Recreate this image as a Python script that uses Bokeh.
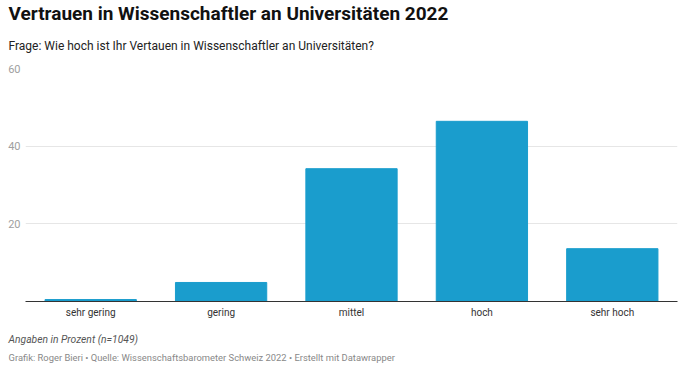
from bokeh.plotting import figure
from bokeh.models import Title, FixedTicker, Range1d
from bokeh.embed import file_html
from bokeh.resources import INLINE

categories = ["sehr gering", "gering", "mittel", "hoch", "sehr hoch"]
values = [0.5, 4.9, 34.2, 46.4, 13.6]
y_ticks = [20, 40, 60]

title_text = "Vertrauen in Wissenschaftler an Universitäten 2022"
subtitle_text = "Frage: Wie hoch ist Ihr Vertauen in Wissenschaftler an Universitäten?"
note_text = "Angaben in Prozent (n=1049)"
credit_text = "Grafik: Roger Bieri • Quelle: Wissenschaftsbarometer Schweiz 2022 • Erstellt mit Datawrapper"

FONT = "Roboto"

p = figure(x_range=categories, y_range=Range1d(0, 60), width=686, height=371,
           output_backend="svg", toolbar_location=None,
           min_border_left=25, min_border_right=9, min_border_top=68, min_border_bottom=70)

p.vbar(x=categories, top=values, width=0.7, color="#1a9dcd")

p.outline_line_color = None
p.background_fill_color = "white"
p.border_fill_color = "white"

# y axis
p.yaxis.ticker = FixedTicker(ticks=y_ticks)
p.yaxis.axis_line_color = None
p.yaxis.major_tick_line_color = None
p.yaxis.minor_tick_line_color = None
p.yaxis.major_tick_out = 0
p.yaxis.major_label_standoff = 5
p.yaxis.major_label_text_color = "#a0a0a0"
p.yaxis.major_label_text_font = FONT
p.yaxis.major_label_text_font_size = "11px"
p.ygrid.ticker = FixedTicker(ticks=y_ticks)
p.ygrid.grid_line_color = "#e6e6e6"
p.xgrid.grid_line_color = None

# x axis
p.xaxis.axis_line_color = "#333333"
p.xaxis.axis_line_width = 1
p.xaxis.major_tick_line_color = None
p.xaxis.minor_tick_line_color = None
p.xaxis.major_tick_out = 0
p.xaxis.major_label_standoff = 5
p.xaxis.major_label_text_color = "#333333"
p.xaxis.major_label_text_font = FONT
p.xaxis.major_label_text_font_size = "10px"

# titles above (first added is closest to plot)
p.add_layout(Title(text=subtitle_text, text_font=FONT, text_font_size="12px",
                   text_font_style="normal", text_color="#222222", align="left",
                   offset=-17, standoff=31), "above")
p.add_layout(Title(text=title_text, text_font=FONT, text_font_size="19px",
                   text_font_style="bold", text_color="#111111", align="left",
                   offset=-17, standoff=-6), "above")

# notes below (first added is closest to plot)
p.add_layout(Title(text=note_text, text_font=FONT, text_font_size="10.3px",
                   text_font_style="italic", text_color="#555555", align="left",
                   offset=-17, standoff=20), "below")
p.add_layout(Title(text=credit_text, text_font=FONT, text_font_size="9.4px",
                   text_font_style="normal", text_color="#888888", align="left",
                   offset=-17, standoff=-11), "below")

open("out.html", "w").write(file_html(p, INLINE))
